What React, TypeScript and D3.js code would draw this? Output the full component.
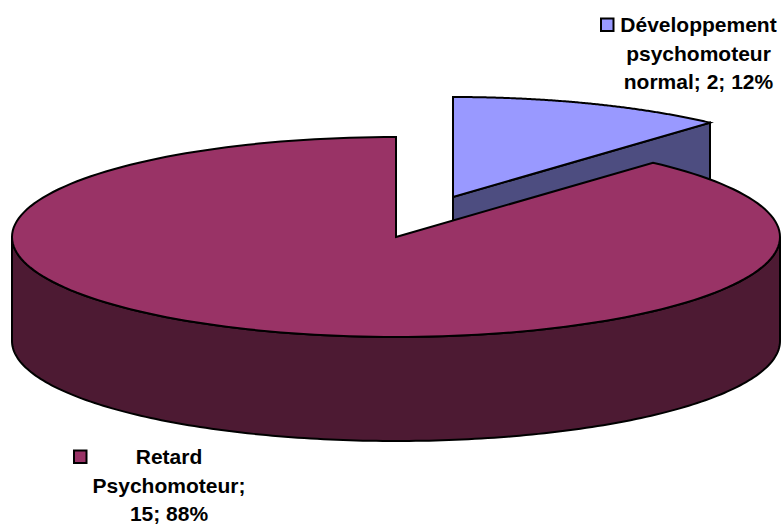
import * as d3 from "d3";

const categories = ["Développement psychomoteur normal", "Retard Psychomoteur"];
const values = [2, 15];
const percents = ["12%", "88%"];
const topColors = ["#9999ff", "#993366"];
const sideColors = ["#4d4d80", "#4d1a33"];

const labelLines = [
  ["Développement", "psychomoteur", `normal; ${values[0]}; ${percents[0]}`],
  ["Retard", "Psychomoteur;", `${values[1]}; ${percents[1]}`],
];

const width = 784;
const height = 524;
const rx = 384;
const ry = 100;
const depth = 104;

// the small slice is pulled out of the pie
const centers = [
  { x: 453, y: 197 },
  { x: 396, y: 237 },
];
const labelPos = [
  { x: 698.5, y: 32, keyX: 601, keyY: 18.5 },
  { x: 169, y: 464, keyX: 74, keyY: 450.5 },
];

const slices = d3.pie<number>().sort(null)(values);

// the 3D projection pulls the angles a little towards the axes
const project = (c: { x: number; y: number }, a: number, dy = 0): [number, number] => {
  const t = a - 0.006 * Math.sin(2 * a);
  return [c.x + rx * Math.sin(t), c.y - ry * Math.cos(t) + dy];
};

const line = d3.line();

// top face, flattened pie slice
const topPath = (i: number) => {
  const s = slices[i];
  const c = centers[i];
  const n = 180;
  const rim = d3.range(n + 1).map((k) =>
    project(c, s.startAngle + ((s.endAngle - s.startAngle) * k) / n)
  );
  return line([[c.x, c.y], ...rim]) + "Z";
};

// front wall of the big slice, lower half of the ellipse
const frontWall = (i: number) => {
  const c = centers[i];
  const n = 180;
  const ang = d3.range(n + 1).map((k) => Math.PI / 2 + (Math.PI * k) / n);
  const upper = ang.map((a) => project(c, a));
  const lower = ang.slice().reverse().map((a) => project(c, a, depth));
  return line([...upper, ...lower]) + "Z";
};

// cut face of the pulled out slice
const cutWall = (i: number) => {
  const c = centers[i];
  const a = slices[i].endAngle;
  const p = project(c, a);
  return line([[c.x, c.y], p, [p[0], p[1] + depth], [c.x, c.y + depth]]) + "Z";
};

export default function App() {
  return (
    <svg
      width={width}
      height={height}
      style={{ position: "absolute", left: 0, top: 0, background: "#fff" }}
    >
      <g stroke="#000" strokeLinejoin="miter">
        <path d={cutWall(0)} fill={sideColors[0]} strokeWidth={2} />
        <path d={topPath(0)} fill={topColors[0]} strokeWidth={2} />
        <path d={frontWall(1)} fill={sideColors[1]} strokeWidth={2} />
        <path d={topPath(1)} fill={topColors[1]} strokeWidth={2} />
      </g>
      {categories.map((name, i) => (
        <g key={name}>
          <rect
            x={labelPos[i].keyX}
            y={labelPos[i].keyY}
            width={12.5}
            height={12.5}
            fill={topColors[i]}
            stroke="#000"
            strokeWidth={2}
          />
          <text
            fontFamily="'Liberation Sans', Arial, sans-serif"
            fontWeight="bold"
            fontSize={21}
            textAnchor="middle"
            fill="#000"
          >
            {labelLines[i].map((t, k) => (
              <tspan key={k} x={labelPos[i].x} y={labelPos[i].y + k * 28.5}>
                {t}
              </tspan>
            ))}
          </text>
        </g>
      ))}
    </svg>
  );
}
